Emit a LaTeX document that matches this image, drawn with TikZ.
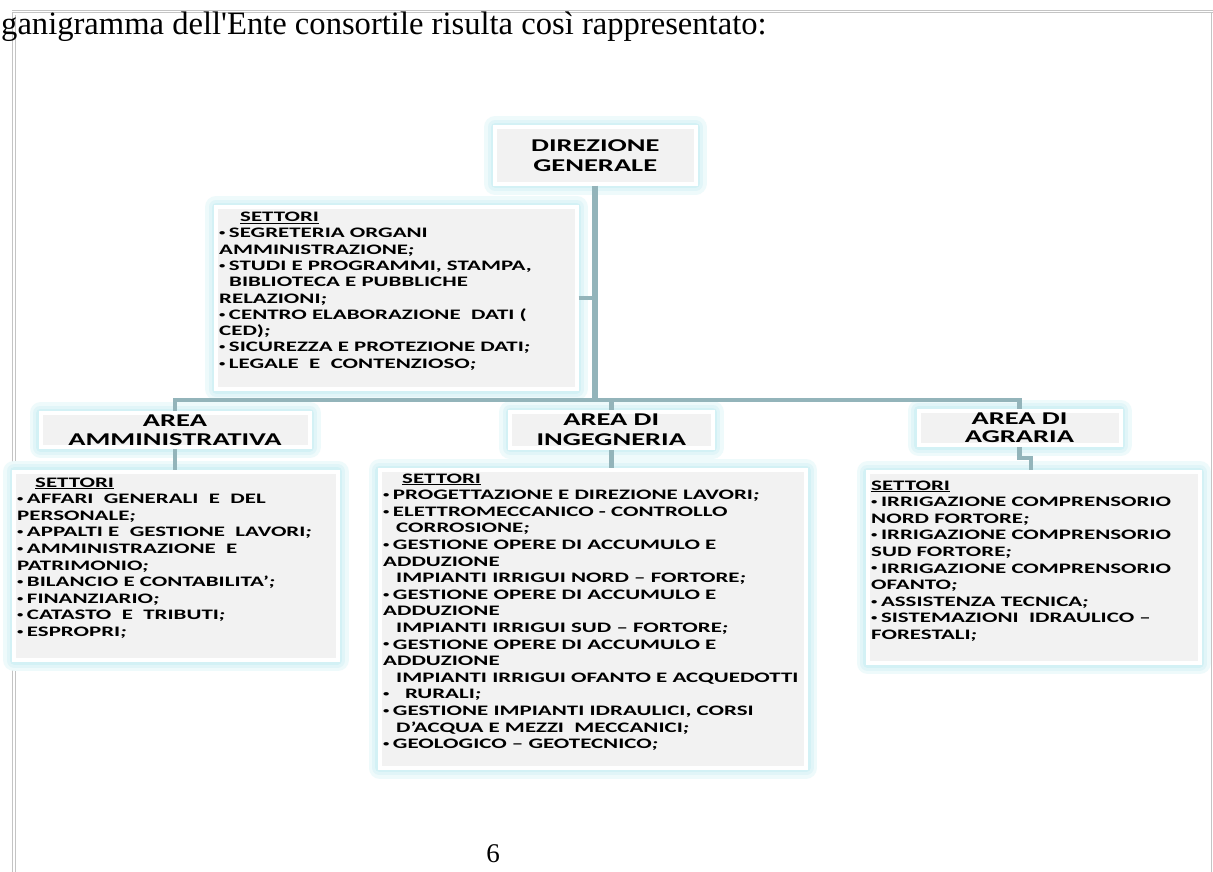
\documentclass[tikz,border=0pt]{standalone}
\usepackage{fontspec}
\setmainfont{Liberation Serif}
\newfontfamily\boxfont{Carlito}[FakeStretch=1.58]
\usetikzlibrary{calc}
\definecolor{boxgray}{HTML}{F2F2F2}
\definecolor{glowc}{HTML}{C8EDF2}
\definecolor{linec}{HTML}{93B4BA}
\definecolor{framec}{HTML}{C4C4C4}
\newcommand{\hdrfont}{\boxfont\bfseries\fontsize{18}{19.5}\selectfont}
\newcommand{\lstfont}{\boxfont\bfseries\fontsize{14.5}{16.6}\selectfont}
\newcommand{\isemi}{\textit{;}}
\newcommand{\bul}{\raisebox{2.2pt}{\fontsize{8}{8}\selectfont •}\hspace{3.5pt}}
\begin{document}
\begin{tikzpicture}[x=1pt,y=-1pt,
  gbox/.style={rectangle, fill=boxgray, draw=white, line width=4pt, outer sep=2pt, inner sep=0pt,
    align=center, font=\hdrfont,
    preaction={draw=glowc!30, line width=22pt, line join=round},
    preaction={draw=glowc!55, line width=15pt, line join=round},
    preaction={draw=glowc!80, line width=9pt, line join=round}},
  ltxt/.style={anchor=north west, inner sep=0pt, align=left, font=\lstfont},
  conn/.style={draw=linec, line width=4.5pt, line join=miter},
  framel/.style={draw=framec, line width=1pt}]
\fill[white] (0,0) rectangle (1213,872);
\useasboundingbox (0,0) rectangle (1213,872);
% page frame
\draw[framel] (12,11) -- (1213,11);
\draw[framel] (12,13) -- (1213,13);
\draw[framel] (12,13) -- (12,872);
\draw[framel] (15,15) -- (15,872);
\draw[framel] (1211.5,13) -- (1211.5,872);
% title and page number
\node[anchor=base west, inner sep=0pt] (title) at (1,35)
  {\fontsize{32.6}{33}\selectfont ganigramma dell\textquotesingle Ente consortile risulta così rappresentato:};
\node[anchor=base, inner sep=0pt] (pnum) at (493,862) {\fontsize{27}{27}\selectfont 6};
% boxes
\node[gbox, minimum width=200.5pt, minimum height=56pt] (dg) at (595.25,155.5) {DIREZIONE\\GENERALE};
\node[gbox, minimum width=360.5pt, minimum height=182pt] (seg) at (396.25,298) {};
\node[gbox, minimum width=269pt, minimum height=34pt] (admarea) at (175,430) {AREA\\AMMINISTRATIVA};
\node[gbox, minimum width=202.5pt, minimum height=35.5pt] (ingarea) at (611.25,429.75) {AREA DI\\INGEGNERIA};
\node[gbox, minimum width=202pt, minimum height=34.5pt, font=\boxfont\bfseries\fontsize{18}{18}\selectfont] (agrarea) at (1019.5,428) {AREA DI\\AGRARIA};
\node[gbox, minimum width=323.5pt, minimum height=188.5pt] (admset) at (175.75,565.75) {};
\node[gbox, minimum width=426.5pt, minimum height=297.5pt] (ingset) at (592.75,618.75) {};
\node[gbox, minimum width=332pt, minimum height=191pt] (agrset) at (1033.5,567.5) {};
% texts
\node[ltxt, font=\boxfont\bfseries\fontsize{14.5}{16.3}\selectfont] (segtxt) at (219,211.8) {\hspace*{21pt}\underline{SETTORI}\\
\bul SEGRETERIA ORGANI\\
AMMINISTRAZIONE\isemi\\
\bul STUDI E PROGRAMMI, STAMPA,\\
\hspace*{10pt}BIBLIOTECA E PUBBLICHE\\
RELAZIONI\isemi\\
\bul CENTRO ELABORAZIONE\ \ DATI (\\
CED)\isemi\\
\bul SICUREZZA E PROTEZIONE DATI\isemi\\
\bul LEGALE\ \ E\ \ CONTENZIOSO\isemi};
\node[ltxt] (admtxt) at (17,477.3) {\hspace*{18pt}\underline{SETTORI}\\
\bul AFFARI\ \ GENERALI\ \ E\ \ DEL\\
PERSONALE\isemi\\
\bul APPALTI E\ \ GESTIONE\ \ LAVORI\isemi\\
\bul AMMINISTRAZIONE\ \ E\\
PATRIMONIO\isemi\\
\bul BILANCIO E CONTABILITA’\isemi\\
\bul FINANZIARIO\isemi\\
\bul CATASTO\ \ E\ \ TRIBUTI\isemi\\
\bul ESPROPRI\isemi};
\node[ltxt] (ingtxt) at (383,473.3) {\hspace*{19pt}\underline{SETTORI}\\
\bul PROGETTAZIONE E DIREZIONE LAVORI\isemi\\
\bul ELETTROMECCANICO - CONTROLLO\\
\hspace*{13pt}CORROSIONE\isemi\\
\bul GESTIONE OPERE DI ACCUMULO E\\
ADDUZIONE\\
\hspace*{13pt}IMPIANTI IRRIGUI NORD – FORTORE\isemi\\
\bul GESTIONE OPERE DI ACCUMULO E\\
ADDUZIONE\\
\hspace*{13pt}IMPIANTI IRRIGUI SUD – FORTORE\isemi\\
\bul GESTIONE OPERE DI ACCUMULO E\\
ADDUZIONE\\
\hspace*{13pt}IMPIANTI IRRIGUI OFANTO E ACQUEDOTTI\\
\bul\hspace*{12pt}RURALI\isemi\\
\bul GESTIONE IMPIANTI IDRAULICI, CORSI\\
\hspace*{13pt}D’ACQUA E MEZZI\ \ MECCANICI\isemi\\
\bul GEOLOGICO – GEOTECNICO\isemi};
\node[ltxt] (agrtxt) at (871,480.3) {\underline{SETTORI}\\
\bul IRRIGAZIONE COMPRENSORIO\\
NORD FORTORE\isemi\\
\bul IRRIGAZIONE COMPRENSORIO\\
SUD FORTORE\isemi\\
\bul IRRIGAZIONE COMPRENSORIO\\
OFANTO\isemi\\
\bul ASSISTENZA TECNICA\isemi\\
\bul SISTEMAZIONI\ \ IDRAULICO –\\
FORESTALI\isemi};
% connectors
\coordinate (busL) at (175,400);
\coordinate (agrjog) at (1031,458);
\draw[conn] (admarea.north) -- (admarea.north |- busL) -- (agrarea.north |- busL) -- (agrarea.north);
\draw[conn, line width=6pt] (dg.south) -- (dg.south |- busL);
\draw[conn] (seg.east) -- (seg.east -| dg.south);
\draw[conn] (ingarea.north) -- (ingarea.north |- busL);
\draw[conn] (admarea.south) -- (admarea.south |- admset.north);
\draw[conn] (ingarea.south) -- (ingarea.south |- ingset.north);
\draw[conn] (agrarea.south) |- (agrjog) -- (agrjog |- agrset.north);
\end{tikzpicture}
\end{document}
